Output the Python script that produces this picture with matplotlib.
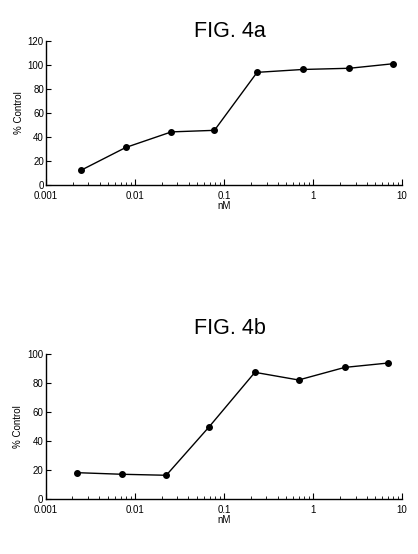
import numpy as np
import matplotlib
matplotlib.use("Agg")
from matplotlib import pyplot as plt
from matplotlib.ticker import LogLocator, NullFormatter, FixedLocator, FixedFormatter

plt.rcParams['font.family'] = ['Liberation Sans', 'DejaVu Sans']

# FIG. 4a
conc_a = [0.00247, 0.00786, 0.0256, 0.078, 0.235, 0.766, 2.56, 7.98]
ctrl_a = [12, 31, 44, 45.3, 93.6, 96, 97, 100.8]

# FIG. 4b
conc_b = [0.00226, 0.00713, 0.0226, 0.0686, 0.223, 0.69, 2.27, 6.89]
ctrl_b = [18.2, 17.1, 16.4, 50, 87.6, 82.3, 91, 94]

xticks = [0.001, 0.01, 0.1, 1, 10]
xlabels = ['0.001', '0.01', '0.1', '1', '10']

fig = plt.figure(figsize=(4.18, 5.54), dpi=100)


def panel(rect, x, y, ymax, title, title_y):
    ax = fig.add_axes(rect)
    ax.plot(x, y, color='black', lw=1.0, marker='o', ms=4,
            markerfacecolor='black', markeredgecolor='black')
    ax.set_xscale('log')
    ax.set_xlim(0.001, 10)
    ax.set_ylim(0, ymax)
    ax.set_yticks(np.arange(0, ymax + 1, 20))
    ax.xaxis.set_major_locator(FixedLocator(xticks))
    ax.xaxis.set_major_formatter(FixedFormatter(xlabels))
    ax.xaxis.set_minor_locator(LogLocator(base=10, subs=np.arange(2, 10)))
    ax.xaxis.set_minor_formatter(NullFormatter())
    for s in ['top', 'right']:
        ax.spines[s].set_visible(False)
    for s in ['left', 'bottom']:
        ax.spines[s].set_linewidth(1.0)
    ax.tick_params(axis='x', which='major', direction='in', length=4, width=0.8,
                   labelsize=7, pad=4.5)
    ax.tick_params(axis='x', which='minor', direction='in', length=2.5, width=0.6)
    ax.tick_params(axis='y', direction='in', length=3.5, width=0.8,
                   labelsize=7, pad=1.5)
    ax.set_xlabel('nM', fontsize=7, labelpad=0)
    ax.set_ylabel('% Control', fontsize=7, labelpad=3)
    fig.text(0.55, title_y, title, fontsize=15.5, ha='center', va='center')
    return ax


panel([0.110, 0.6666, 0.852, 0.260], conc_a, ctrl_a, 120, 'FIG. 4a', 1 - 31.5 / 554)
panel([0.109, 0.0993, 0.853, 0.261], conc_b, ctrl_b, 100, 'FIG. 4b', 1 - 328 / 554)

fig.savefig('out.png', dpi=100)
